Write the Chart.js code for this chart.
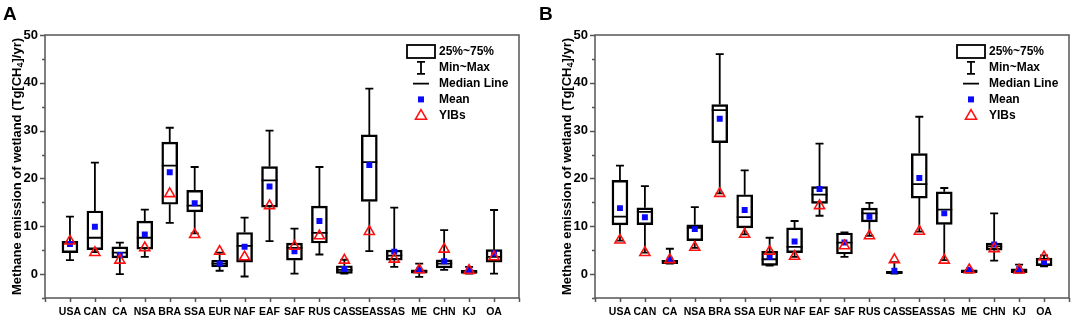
<!DOCTYPE html>
<html>
<head>
<meta charset="utf-8">
<script src="https://cdn.jsdelivr.net/npm/chart.js@4.4.1/dist/chart.umd.min.js"></script>
<style>
  body { margin: 0; background: #fff; width: 1072px; height: 317px; position: relative; overflow: hidden; }
  .panel { position: absolute; top: 0; width: 522px; height: 317px; }
  .tag { position: absolute; top: 3px; left: 3px; font: bold 19px "Liberation Sans", Arial, sans-serif; line-height: 22px; }
</style>
</head>
<body>
<div class="panel" style="left:0"><canvas id="chart-a" width="522" height="317"></canvas><div class="tag">A</div></div>
<div class="panel" style="left:550px"><canvas id="chart-b" width="522" height="317"></canvas><div class="tag" style="left:-11px">B</div></div>
<script>
const categories = ['USA', 'CAN', 'CA', 'NSA', 'BRA', 'SSA', 'EUR', 'NAF', 'EAF', 'SAF', 'RUS', 'CAS', 'SEAS', 'SAS', 'ME', 'CHN', 'KJ', 'OA'];
const yTicks = [0, 10, 20, 30, 40, 50];

// Panel A
const aMin = [2.9, 4.6, 0.0, 3.6, 10.7, 8.5, 0.7, -0.5, 6.9, 0.1, 4.1, 0.1, 4.8, 1.5, -0.6, 0.9, 0.1, 0.1];
const aQ1 = [4.5, 5.1, 3.4, 5.2, 14.6, 13.0, 1.5, 2.5, 14.0, 2.9, 6.5, 0.15, 15.2, 2.9, 0.2, 1.3, 0.15, 2.5];
const aMed = [6.6, 7.6, 4.5, 7.6, 22.7, 14.3, 2.2, 5.9, 19.6, 5.5, 8.6, 0.9, 23.4, 3.85, 0.6, 2.2, 0.4, 3.6];
const aQ3 = [6.85, 13.2, 5.7, 11.1, 27.6, 17.5, 2.9, 8.7, 22.5, 6.5, 14.2, 1.75, 29.1, 5.0, 0.9, 3.0, 0.8, 5.1];
const aMax = [12.0, 23.3, 6.6, 13.5, 30.6, 22.4, 4.5, 11.8, 30.0, 9.5, 22.4, 3.0, 38.8, 13.9, 2.2, 9.2, 1.5, 13.4];
const aMean = [6.3, 9.9, 4.0, 8.3, 21.3, 14.8, 2.2, 5.7, 18.3, 4.75, 11.1, 1.05, 22.8, 4.7, 0.8, 2.7, 0.75, 4.3];
const aYibs = [6.9, 4.5, 2.9, 5.5, 16.8, 8.25, 4.75, 3.6, 14.3, 5.8, 8.0, 2.9, 8.9, 3.1, 0.9, 5.2, 0.75, 3.6];

// Panel B
const bMin = [7.0, 4.5, 2.2, 5.5, 16.9, 8.3, 1.8, 3.6, 12.2, 3.6, 8.0, 0.1, 8.9, 2.9, 0.3, 2.8, 0.3, 1.6];
const bQ1 = [10.3, 10.35, 2.2, 7.0, 27.5, 9.65, 1.8, 4.5, 14.8, 4.2, 10.9, 0.1, 15.9, 10.4, 0.3, 5.0, 0.3, 1.75];
const bMed = [12.0, 13.0, 2.7, 9.65, 34.3, 11.9, 3.1, 5.7, 16.6, 6.6, 12.7, 0.3, 18.8, 13.5, 0.6, 5.8, 0.7, 2.0];
const bQ3 = [19.6, 13.85, 2.9, 10.3, 35.45, 16.6, 4.75, 9.65, 18.3, 8.6, 13.8, 0.6, 25.2, 17.2, 0.9, 6.5, 1.1, 3.35];
const bMax = [22.7, 18.4, 5.3, 14.0, 46.0, 21.7, 7.6, 11.1, 27.3, 8.7, 14.9, 2.5, 32.9, 18.0, 0.9, 12.7, 2.0, 3.9];
const bMean = [13.8, 11.9, 3.0, 9.4, 32.5, 13.4, 3.6, 6.8, 17.8, 6.6, 12.0, 0.7, 20.1, 12.7, 0.85, 6.2, 1.0, 2.5];
const bYibs = [7.1, 4.5, 3.0, 5.6, 16.85, 8.3, 4.75, 3.7, 14.3, 5.9, 8.0, 3.0, 8.95, 2.9, 0.9, 5.3, 0.85, 3.6];

const FONT = '"Liberation Sans", Arial, sans-serif';
const FRAME = '#555';
const BLUE = '#0a0aff';
const RED = '#ff1010';

// blank slot on each side so the axis runs one step past the first/last region
const pad = arr => [null, ...arr, null];

// whiskers, median lines, frame, axis ticks, y title and the legend
const boxExtras = {
  id: 'boxExtras',
  beforeDatasetsDraw(chart) {
    const { ctx, scales: { x, y } } = chart;
    const st = chart.options.plugins.boxExtras;
    ctx.save();
    ctx.strokeStyle = '#000';
    ctx.lineWidth = 1.8;
    st.med.forEach((m, i) => {
      const cx = x.getPixelForValue(i + 1);
      const yMin = y.getPixelForValue(st.min[i]);
      const yMax = y.getPixelForValue(st.max[i]);
      const yQ1 = y.getPixelForValue(st.q1[i]);
      const yQ3 = y.getPixelForValue(st.q3[i]);
      const yMed = y.getPixelForValue(m);
      ctx.beginPath();
      ctx.moveTo(cx, yQ3); ctx.lineTo(cx, yMax);
      ctx.moveTo(cx, yQ1); ctx.lineTo(cx, yMin);
      ctx.moveTo(cx - 4, yMax); ctx.lineTo(cx + 4, yMax);
      ctx.moveTo(cx - 4, yMin); ctx.lineTo(cx + 4, yMin);
      ctx.moveTo(cx - 8, yMed); ctx.lineTo(cx + 8, yMed);
      ctx.stroke();
    });
    ctx.restore();
  },
  afterDraw(chart) {
    const { ctx, chartArea: a, scales: { x, y } } = chart;
    ctx.save();
    ctx.strokeStyle = FRAME;
    ctx.lineWidth = 1.5;
    ctx.strokeRect(a.left, a.top, a.right - a.left, a.bottom - a.top);
    ctx.beginPath();
    for (let i = 0; i < x.ticks.length; i++) {
      const px = Math.round(x.getPixelForValue(i)) + 0.5;
      ctx.moveTo(px, a.bottom); ctx.lineTo(px, a.bottom + 4);
    }
    for (let v = -5; v <= 50; v += 5) {
      const py = Math.round(y.getPixelForValue(v)) + 0.5;
      const len = v % 10 === 0 ? 5 : 3;
      ctx.moveTo(a.left - len, py); ctx.lineTo(a.left, py);
    }
    ctx.stroke();

    // y title with a real subscript
    ctx.save();
    ctx.translate(17, (a.top + a.bottom) / 2);
    ctx.rotate(-Math.PI / 2);
    ctx.fillStyle = '#000';
    ctx.textBaseline = 'middle';
    const parts = [['Methane emission of wetland (Tg[CH', 13, 0], ['4', 9, 3.5], [']/yr)', 13, 0]];
    const widths = parts.map(([t, s]) => { ctx.font = 'bold ' + s + 'px ' + FONT; return ctx.measureText(t).width; });
    let tx0 = -widths.reduce((p, c) => p + c, 0) / 2;
    parts.forEach(([t, s, dy], i) => {
      ctx.font = 'bold ' + s + 'px ' + FONT;
      ctx.fillText(t, tx0, dy);
      tx0 += widths[i];
    });
    ctx.restore();

    // legend
    const lx = a.right - 98;
    const tx = a.right - 80;
    const row = i => a.top + 17 + 15.8 * i;
    ctx.strokeStyle = '#000';
    ctx.lineWidth = 1.8;
    ctx.strokeRect(lx - 14, row(0) - 7, 28, 13);
    ctx.beginPath();
    ctx.moveTo(lx, row(1) - 6); ctx.lineTo(lx, row(1) + 6);
    ctx.moveTo(lx - 4, row(1) - 6); ctx.lineTo(lx + 4, row(1) - 6);
    ctx.moveTo(lx - 4, row(1) + 6); ctx.lineTo(lx + 4, row(1) + 6);
    ctx.moveTo(lx - 8, row(2)); ctx.lineTo(lx + 8, row(2));
    ctx.stroke();
    ctx.fillStyle = BLUE;
    ctx.fillRect(lx - 3, row(3) - 3, 6, 6);
    ctx.strokeStyle = RED;
    ctx.lineWidth = 1.6;
    ctx.beginPath();
    ctx.moveTo(lx, row(4) - 5.5); ctx.lineTo(lx + 5.5, row(4) + 4); ctx.lineTo(lx - 5.5, row(4) + 4);
    ctx.closePath();
    ctx.stroke();
    ctx.fillStyle = '#000';
    ctx.font = 'bold 12px ' + FONT;
    ctx.textBaseline = 'middle';
    ['25%~75%', 'Min~Max', 'Median Line', 'Mean', 'YIBs'].forEach((t, i) => ctx.fillText(t, tx, row(i)));
    ctx.restore();
  }
};

function makeChart(id, q1, med, q3, min, max, mean, yibs) {
  return new Chart(document.getElementById(id), {
    type: 'bar',
    data: {
      labels: ['', ...categories, ''],
      datasets: [
        {
          type: 'line', label: 'YIBs', data: pad(yibs), showLine: false,
          pointStyle: 'triangle', pointRadius: 5.8, borderColor: RED,
          backgroundColor: 'rgba(0,0,0,0)', pointBorderWidth: 1.6
        },
        {
          type: 'line', label: 'Mean', data: pad(mean), showLine: false,
          pointStyle: 'rect', pointRadius: 4.2, backgroundColor: BLUE,
          borderColor: BLUE, pointBorderWidth: 0
        },
        {
          label: '25%~75%',
          data: pad(q1.map((v, i) => [v, q3[i]])),
          backgroundColor: 'rgba(0,0,0,0)', borderColor: '#000', borderWidth: 1.8,
          borderSkipped: false, barThickness: 16, grouped: false
        }
      ]
    },
    options: {
      responsive: false,
      animation: false,
      layout: { autoPadding: false, padding: { top: 35, right: 3, left: 0, bottom: 0 } },
      plugins: {
        legend: { display: false },
        tooltip: { enabled: false },
        boxExtras: { q1, med, q3, min, max }
      },
      scales: {
        x: {
          offset: false,
          grid: { display: false, drawTicks: false },
          border: { display: false },
          ticks: {
            autoSkip: false, maxRotation: 0, padding: 8, color: '#000',
            font: { family: FONT, size: 10.5, weight: 'bold' }
          },
          afterFit: s => { s.height = 19; s.paddingLeft = 0; s.paddingRight = 0; }
        },
        y: {
          min: -5, max: 50,
          grid: { display: false, drawTicks: false },
          border: { display: false },
          afterBuildTicks: s => { s.ticks = yTicks.map(v => ({ value: v })); },
          ticks: {
            padding: 7, color: '#000',
            font: { family: FONT, size: 13, weight: 'bold' }
          },
          afterFit: s => { s.width = 45; }
        }
      }
    },
    plugins: [boxExtras]
  });
}

makeChart('chart-a', aQ1, aMed, aQ3, aMin, aMax, aMean, aYibs);
makeChart('chart-b', bQ1, bMed, bQ3, bMin, bMax, bMean, bYibs);
</script>
</body>
</html>
